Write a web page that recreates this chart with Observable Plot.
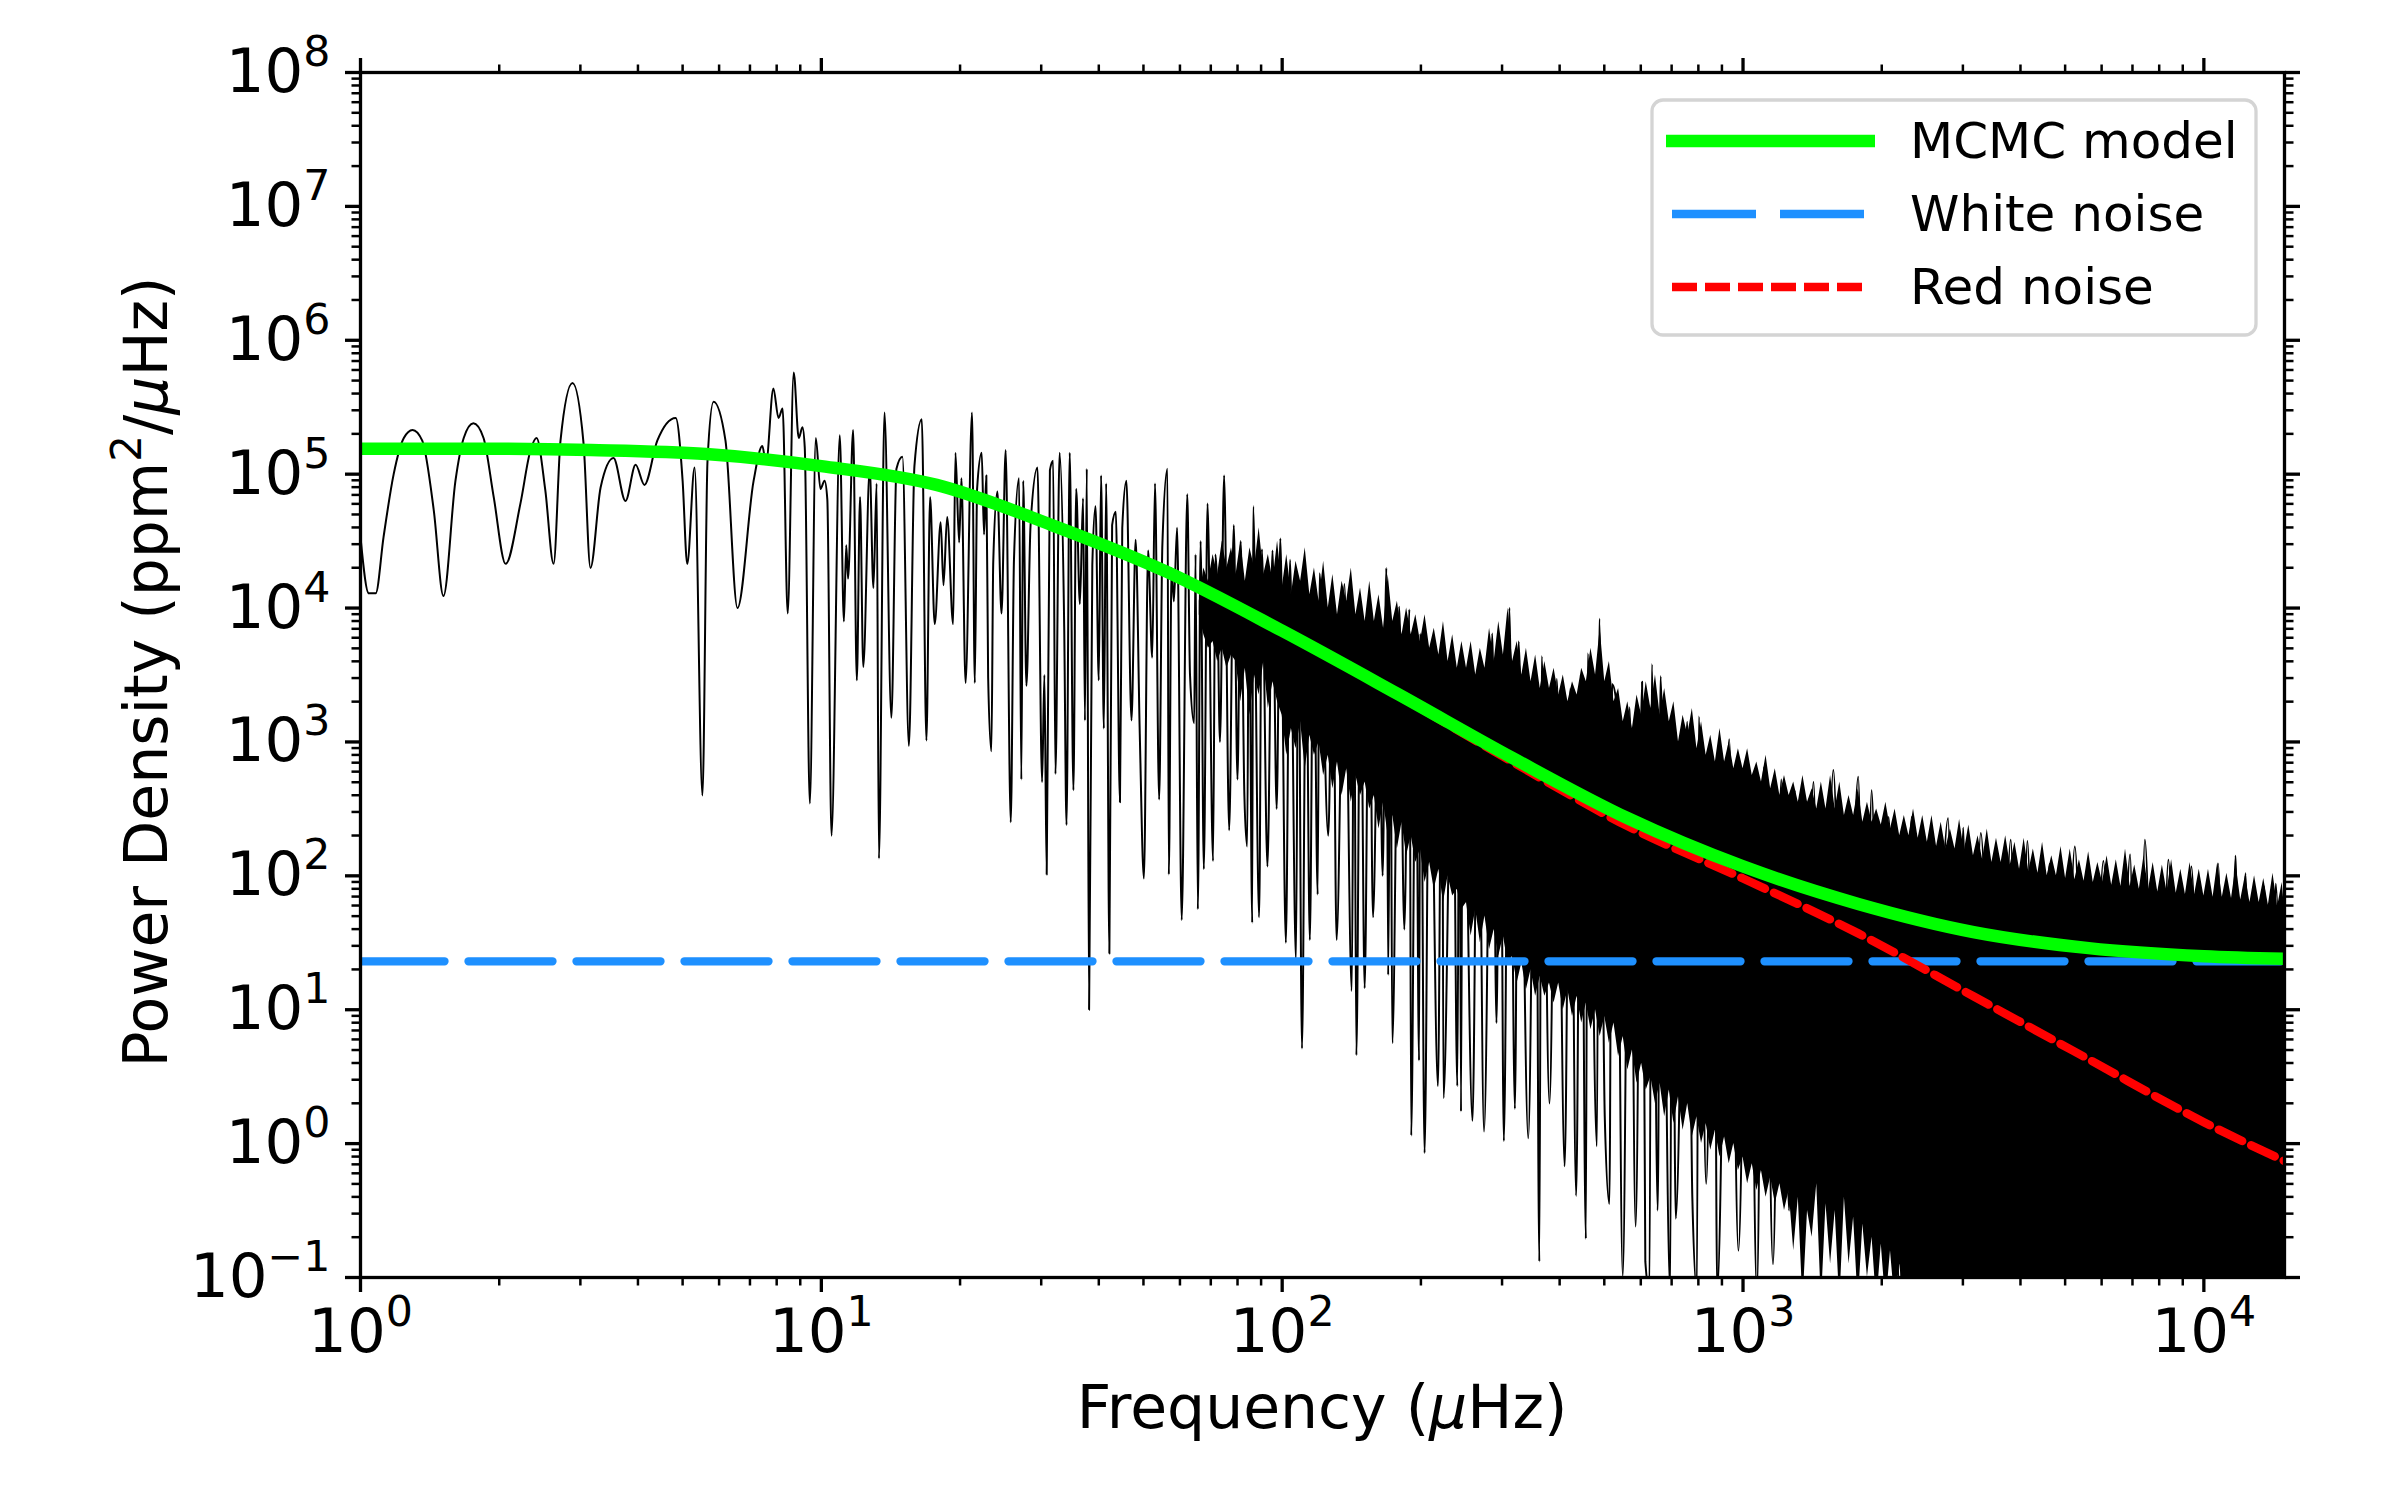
<!DOCTYPE html>
<html><head><meta charset="utf-8">
<script src="https://cdn.jsdelivr.net/npm/d3@7"></script>
<script src="https://cdn.jsdelivr.net/npm/@observablehq/plot@0.6"></script>
<style>
html,body{margin:0;padding:0;background:#fff;}
#chart{position:relative;width:2400px;height:1500px;}
</style></head><body><div id="chart"></div>
<script>
// ---- data (log10 frequency in µHz, log10 power density in ppm^2/µHz) ----
const spectrumLow = [[0,4.53],[0.018,4.11],[0.033,4.11],[0.05,4.53],[0.072,5.0],[0.094,5.27],[0.113,5.33],[0.134,5.25],[0.159,4.73],[0.18,4.09],[0.206,4.95],[0.224,5.27],[0.245,5.38],[0.267,5.27],[0.289,4.83],[0.315,4.33],[0.347,4.78],[0.369,5.18],[0.382,5.27],[0.401,4.88],[0.419,4.33],[0.434,5.25],[0.46,5.68],[0.484,5.23],[0.499,4.30],[0.521,4.9],[0.549,5.12],[0.575,4.80],[0.597,5.07],[0.616,4.92],[0.644,5.25],[0.684,5.42],[0.699,4.95],[0.709,4.33],[0.725,5.05],[0.742,2.60],[0.753,5.1],[0.766,5.54],[0.792,5.25],[0.818,4.0],[0.853,4.95],[0.872,5.21],[0.88,5.08],[0.896,5.64],[0.907,5.42],[0.916,5.49],[0.927,3.96],[0.940,5.76],[0.951,5.27],[0.959,5.35],[0.964,5.2],[0.975,2.54],[0.988,5.27],[0.998,4.89],[1.007,4.95],[1.013,4.81]];
const spectrumMid = [[1.022,2.30],[1.04,5.29],[1.049,3.90],[1.054,4.47],[1.058,4.22],[1.069,5.33],[1.077,3.46],[1.084,4.83],[1.091,3.56],[1.105,5.04],[1.113,4.15],[1.12,4.93],[1.125,2.13],[1.137,5.46],[1.152,3.18],[1.163,5.04],[1.176,5.13],[1.19,2.97],[1.202,5.06],[1.218,5.41],[1.228,3.01],[1.236,4.83],[1.246,3.88],[1.259,4.64],[1.265,4.17],[1.273,4.68],[1.286,3.88],[1.291,5.16],[1.299,4.49],[1.304,4.97],[1.313,3.44],[1.327,5.46],[1.333,3.44],[1.338,4.89],[1.348,5.16],[1.353,4.55],[1.358,4.99],[1.362,3.48],[1.369,2.93],[1.373,4.34],[1.382,4.87],[1.391,3.96],[1.40,5.18],[1.411,2.40],[1.418,4.36],[1.429,4.97],[1.434,2.72],[1.438,4.95],[1.445,3.42],[1.454,4.62],[1.469,5.05],[1.479,2.70],[1.484,3.5],[1.489,2.01],[1.496,5.03],[1.503,5.10],[1.508,2.76],[1.517,5.16],[1.527,3.86],[1.532,2.38],[1.539,5.16],[1.547,2.64],[1.553,4.89],[1.561,4.03],[1.568,4.82],[1.572,3.16],[1.576,5.04],[1.581,1.00],[1.588,4.32],[1.595,4.76],[1.602,3.46],[1.607,4.99],[1.613,3.10],[1.618,4.93],[1.625,1.42],[1.631,4.62],[1.639,4.72],[1.648,2.55],[1.653,4.60],[1.662,4.95],[1.673,3.16],[1.682,4.51],[1.691,3.06],[1.70,1.98],[1.709,4.43],[1.718,3.63],[1.724,4.93],[1.733,2.57],[1.74,4.47],[1.751,5.04],[1.754,2.01],[1.76,4.3],[1.765,4.05],[1.772,4.6],[1.782,1.67],[1.794,4.85],[1.80,3.5],[1.809,3.14],[1.812,4.4],[1.817,1.75],[1.823,4.5],[1.83,2.05],[1.838,4.78],[1.85,2.11],[1.855,4.4],[1.859,4.17],[1.865,3.0],[1.874,4.99],[1.885,2.34],[1.895,4.62],[1.903,2.72],[1.91,4.5],[1.918,2.6],[1.924,2.22],[1.928,4.3],[1.935,1.65],[1.937,4.76],[1.95,1.69],[1.956,4.44],[1.968,2.07],[1.979,4.43],[1.988,2.5],[1.996,4.52],[2.008,1.50],[2.017,4.36],[2.03,1.37]];
const spectrumHigh = [[2.035,4.2],[2.043,0.71],[2.052,3.9],[2.06,1.52],[2.068,4.18],[2.077,1.86],[2.081,4.26],[2.10,2.3],[2.11,4.09],[2.118,1.52],[2.135,4.18],[2.151,1.14],[2.156,3.8],[2.161,0.66],[2.17,3.9],[2.179,1.16],[2.189,4.09],[2.197,1.69],[2.21,3.7],[2.218,2.0],[2.226,4.3],[2.23,1.26],[2.235,3.6],[2.239,0.75],[2.254,4.01],[2.265,1.6],[2.276,3.99],[2.28,0.06],[2.29,3.5],[2.297,0.62],[2.30,3.81],[2.309,-0.07],[2.32,3.6],[2.338,0.43],[2.347,3.79],[2.35,0.34],[2.37,3.5],[2.38,0.43],[2.385,3.6],[2.388,0.24],[2.392,3.58],[2.413,0.17],[2.425,3.5],[2.438,0.09],[2.456,3.81],[2.465,0.9],[2.473,3.6],[2.481,0.02],[2.493,4.0],[2.505,0.26],[2.513,3.75],[2.534,0.04],[2.55,3.55],[2.558,-0.88],[2.563,3.64],[2.58,0.3],[2.596,3.47],[2.613,-0.17],[2.625,3.4],[2.638,-0.39],[2.648,3.5],[2.659,-0.71],[2.663,3.66],[2.683,-0.02],[2.688,3.92],[2.70,0.2],[2.71,-0.45],[2.716,3.43],[2.725,3.3],[2.739,-0.99],[2.754,3.26],[2.767,-0.62],[2.781,3.45],[2.788,-0.88],[2.797,-1.1],[2.802,3.58],[2.815,-0.5],[2.821,3.49],[2.842,-1.1],[2.846,2.94],[2.854,-0.56],[2.879,3.15],[2.89,-0.4],[2.9,-1.1],[2.904,3.19],[2.92,-0.3],[2.937,2.81],[2.944,-1.1],[2.97,3.02],[2.99,-0.8],[3.012,2.72],[3.03,-1.1],[3.045,2.81],[3.065,-0.9],[3.083,2.72],[3.1,-0.5],[3.112,2.64],[3.13,-0.4],[3.153,2.7],[3.17,-0.6],[3.196,2.79],[3.22,-0.3],[3.25,2.74],[3.265,-0.5],[3.279,2.64],[3.3,-0.7],[3.316,2.44],[3.34,-1.1],[3.366,2.44],[3.40,-1.2],[3.445,2.43],[3.46,-1.2],[3.478,2.36],[3.49,-1.2],[3.516,2.32],[3.55,-1.2],[3.581,2.27],[3.6,-1.2],[3.617,2.26],[3.64,-1.2],[3.665,2.09],[3.69,-1.2],[3.72,2.22],[3.75,-1.2],[3.782,2.11],[3.81,-1.2],[3.84,2.16],[3.855,-1.2],[3.872,2.27],[3.9,-1.2],[3.923,2.12],[3.95,-1.2],[3.973,2.07],[4.0,-1.2],[4.031,2.09],[4.05,-1.2],[4.069,2.15],[4.08,-1.2],[4.09,2.02],[4.11,-1.2],[4.131,1.92],[4.145,-1.2],[4.156,1.94],[4.175,-1.2]];

// dense part of the periodogram: lower / upper edge of the solid black mass (read every 0.01 dex)
const bandLogF = [
1.82,1.83,1.84,1.85,1.86,1.87,1.88,1.89,
1.90,1.91,1.92,1.93,1.94,1.95,1.96,1.97,1.98,1.99,
2.00,2.01,2.02,2.03,2.04,2.05,2.06,2.07,2.08,2.09,
2.10,2.11,2.12,2.13,2.14,2.15,2.16,2.17,2.18,2.19,
2.20,2.21,2.22,2.23,2.24,2.25,2.26,2.27,2.28,2.29,
2.30,2.31,2.32,2.33,2.34,2.35,2.36,2.37,2.38,2.39,
2.40,2.41,2.42,2.43,2.44,2.45,2.46,2.47,2.48,2.49,
2.50,2.51,2.52,2.53,2.54,2.55,2.56,2.57,2.58,2.59,
2.60,2.61,2.62,2.63,2.64,2.65,2.66,2.67,2.68,2.69,
2.70,2.71,2.72,2.73,2.74,2.75,2.76,2.77,2.78,2.79,
2.80,2.81,2.82,2.83,2.84,2.85,2.86,2.87,2.88,2.89,
2.90,2.91,2.92,2.93,2.94,2.95,2.96,2.97,2.98,2.99,
3.00,3.01,3.02,3.03,3.04,3.05,3.06,3.07,3.08,3.09,
3.10,3.11,3.12,3.13,3.14,3.15,3.16,3.17,3.18,3.19,
3.20,3.21,3.22,3.23,3.24,3.25,3.26,3.27,3.28,3.29,
3.30,3.31,3.32,3.33,3.34,3.35,3.36,3.37,3.38,3.39,
3.40,3.41,3.42,3.43,3.44,3.45,3.46,3.47,3.48,3.49,
3.50,3.51,3.52,3.53,3.54,3.55,3.56,3.57,3.58,3.59,
3.60,3.61,3.62,3.63,3.64,3.65,3.66,3.67,3.68,3.69,
3.70,3.71,3.72,3.73,3.74,3.75,3.76,3.77,3.78,3.79,
3.80,3.81,3.82,3.83,3.84,3.85,3.86,3.87,3.88,3.89,
3.90,3.91,3.92,3.93,3.94,3.95,3.96,3.97,3.98,3.99,
4.00,4.01,4.02,4.03,4.04,4.05,4.06,4.07,4.08,4.09,
4.10,4.11,4.12,4.13,4.14,4.15,4.16,4.17,4.175];
const bandLogHi = [
4.05,4.3,4.2,4.4,4.25,4.5,4.3,4.45,
4.25,4.5,4.2,4.45,4.3,4.6,4.25,4.4,4.2,4.5,
4.15,4.4,4.1,4.35,4.2,4.45,4.1,4.3,4.05,4.35,
4.0,4.25,3.95,4.2,4.05,4.3,3.95,4.15,3.9,4.2,
3.9,4.1,3.85,4.25,3.9,4.05,3.8,4.0,3.8,3.95,
3.75,3.95,3.7,3.85,3.65,3.9,3.6,3.8,3.55,3.75,
3.55,3.75,3.5,3.7,3.55,3.85,3.6,3.9,3.65,4.0,
3.6,3.75,3.5,3.7,3.45,3.65,3.4,3.6,3.4,3.55,
3.35,3.5,3.3,3.45,3.35,3.55,3.45,3.7,3.5,3.85,
3.45,3.6,3.3,3.4,3.15,3.3,3.1,3.35,3.2,3.45,
3.25,3.5,3.2,3.4,3.15,3.3,3.0,3.2,3.05,3.25,
2.95,3.15,2.9,3.05,2.85,3.1,2.85,3.0,2.8,2.95,
2.8,2.95,2.75,2.85,2.7,2.9,2.65,2.8,2.6,2.75,
2.6,2.7,2.55,2.75,2.55,2.65,2.5,2.7,2.5,2.75,
2.5,2.7,2.45,2.6,2.45,2.65,2.4,2.55,2.4,2.5,
2.38,2.55,2.35,2.5,2.3,2.45,2.3,2.5,2.28,2.45,
2.25,2.45,2.22,2.4,2.2,2.35,2.2,2.42,2.18,2.38,
2.15,2.3,2.12,2.35,2.1,2.28,2.1,2.3,2.08,2.25,
2.05,2.28,2.03,2.2,2.02,2.25,2.0,2.15,2.0,2.22,
1.98,2.2,1.97,2.12,1.96,2.18,1.95,2.1,1.95,2.15,
1.93,2.12,1.92,2.2,1.92,2.08,1.9,2.15,1.9,2.1,
1.88,2.08,1.88,2.12,1.87,2.05,1.86,2.1,1.86,2.05,
1.85,2.05,1.84,2.1,1.84,2.02,1.83,2.08,1.82,2.0,
1.8,2.0,1.8,1.98,1.78,2.02,1.77,1.95,1.75];
const bandLogLo = [
3.95,3.8,3.7,3.75,3.6,3.7,3.55,3.65,
3.6,3.3,3.55,3.2,3.5,3.35,3.6,3.25,3.45,3.3,
3.2,2.9,3.1,2.95,3.15,2.8,3.05,2.9,3.0,2.75,
2.9,2.65,2.85,2.6,2.8,2.55,2.75,2.6,2.7,2.5,
2.6,2.35,2.55,2.3,2.45,2.2,2.4,2.15,2.3,2.1,
2.2,1.95,2.1,1.9,2.05,1.8,2.0,1.85,1.9,1.75,
1.8,1.55,1.75,1.5,1.7,1.45,1.6,1.4,1.55,1.35,
1.4,1.2,1.35,1.15,1.3,1.1,1.25,1.1,1.2,1.05,
1.2,1.0,1.15,0.95,1.1,0.9,1.05,0.85,1.0,0.8,
0.95,0.75,0.9,0.65,0.8,0.55,0.7,0.45,0.6,0.4,
0.5,0.3,0.45,0.2,0.4,0.15,0.35,0.1,0.3,0.05,
0.2,0.0,0.15,-0.05,0.1,-0.1,0.05,-0.15,0.0,-0.2,
-0.1,-0.3,-0.15,-0.35,-0.2,-0.4,-0.25,-0.45,-0.3,-0.5,
-0.35,-0.8,-0.4,-1.2,-0.5,-0.7,-0.3,-1.2,-0.45,-0.9,
-0.5,-1.2,-0.4,-0.9,-0.55,-1.2,-0.6,-1.0,-0.7,-1.2,
-0.75,-1.2,-0.8,-1.2,-0.9,-1.2,-1.0,-1.2,-1.2,-1.2,
-1.2,-1.2,-1.2,-1.2,-1.2,-1.2,-1.2,-1.2,-1.2,-1.2,
-1.2,-1.2,-1.2,-1.2,-1.2,-1.2,-1.2,-1.2,-1.2,-1.2,
-1.2,-1.2,-1.2,-1.2,-1.2,-1.2,-1.2,-1.2,-1.2,-1.2,
-1.2,-1.2,-1.2,-1.2,-1.2,-1.2,-1.2,-1.2,-1.2,-1.2,
-1.2,-1.2,-1.2,-1.2,-1.2,-1.2,-1.2,-1.2,-1.2,-1.2,
-1.2,-1.2,-1.2,-1.2,-1.2,-1.2,-1.2,-1.2,-1.2,-1.2,
-1.2,-1.2,-1.2,-1.2,-1.2,-1.2,-1.2,-1.2,-1.2,-1.2,
-1.2,-1.2,-1.2,-1.2,-1.2,-1.2,-1.2,-1.2,-1.2];

// fitted model curves
const modelLogF     = [0,0.25,0.5,0.75,1,1.25,1.5,1.75,2,2.25,2.5,2.75,3,3.25,3.5,3.75,4,4.175];
const modelLogTotal = [5.19,5.19,5.18,5.15,5.06,4.92,4.62,4.27,3.83,3.36,2.88,2.43,2.07,1.79,1.58,1.46,1.40,1.38];
const modelLogRed   = [5.19,5.19,5.18,5.15,5.06,4.92,4.62,4.27,3.83,3.35,2.85,2.37,1.98,1.57,1.10,0.63,0.16,-0.13];
const whiteLevel = 23;
const freqRange = [1, 14962];

const xMajor = [1, 10, 100, 1000, 10000];
const yMajor = [0.1, 1, 10, 100, 1e3, 1e4, 1e5, 1e6, 1e7, 1e8];
const legendLabels = ["MCMC model", "White noise", "Red noise"];

// ---- build tables ----
const spectrum = [...spectrumLow, ...spectrumMid, ...spectrumHigh].map(([lf, lp]) => ({f: 10 ** lf, p: 10 ** lp}));
const band = bandLogF.map((lf, i) => ({f: 10 ** lf, lo: 10 ** bandLogLo[i], hi: 10 ** bandLogHi[i]}));
const model = modelLogF.map((lf, i) => ({f: 10 ** lf, total: 10 ** modelLogTotal[i], red: 10 ** modelLogRed[i]}));
const white = freqRange.map(f => ({f, p: whiteLevel}));

const xMinor = [], yMinor = [];
for (let k = 0; k <= 4; k++) for (let m = 2; m <= 9; m++) { const v = m * 10 ** k; if (v < freqRange[1]) xMinor.push(v); }
for (let k = -1; k <= 7; k++) for (let m = 2; m <= 9; m++) yMinor.push(m * 10 ** k);

const FS = 61;
const fmtExp = d => "10|" + String(Math.round(Math.log10(d))).replace("-", "\u2212");
const blank = () => "";

const plot = Plot.plot({
  width: 2400, height: 1500,
  marginLeft: 360, marginRight: 116, marginTop: 72, marginBottom: 223,
  style: {fontFamily: "DejaVu Sans", background: "white", color: "black", overflow: "visible"},
  x: {type: "log", domain: freqRange},
  y: {type: "log", domain: [0.1, 1e8]},
  marks: [
    Plot.areaY(band, {x: "f", y1: "lo", y2: "hi", fill: "black", clip: true}),
    Plot.line(spectrum, {x: "f", y: "p", stroke: "black", strokeWidth: 2, curve: "monotone-x", clip: true}),
    Plot.line(white, {x: "f", y: "p", stroke: "#1e90ff", strokeWidth: 8.3, strokeDasharray: "84,24", clip: true}),
    Plot.line(model, {x: "f", y: "red", stroke: "#ff0000", strokeWidth: 8.5, strokeDasharray: "26,10", curve: "monotone-x", clip: true}),
    Plot.line(model, {x: "f", y: "total", stroke: "#00ff00", strokeWidth: 12.5, strokeLinecap: "square", curve: "monotone-x", clip: true}),
    Plot.frame({stroke: "black", strokeWidth: 3.3}),
    Plot.axisX({anchor: "bottom", ticks: xMajor, tickSize: 15, tickPadding: 16, strokeWidth: 3.3, fontSize: FS, tickFormat: fmtExp, label: null}),
    Plot.axisX({anchor: "bottom", ticks: xMinor, tickSize: 8.5, strokeWidth: 2.5, tickFormat: blank, label: null}),
    Plot.axisX({anchor: "top", ticks: xMajor, tickSize: 15, strokeWidth: 3.3, tickFormat: blank, label: null}),
    Plot.axisX({anchor: "top", ticks: xMinor, tickSize: 8.5, strokeWidth: 2.5, tickFormat: blank, label: null}),
    Plot.axisY({anchor: "left", ticks: yMajor, tickSize: 15, tickPadding: 15, strokeWidth: 3.3, fontSize: FS, tickFormat: fmtExp, label: null}),
    Plot.axisY({anchor: "left", ticks: yMinor, tickSize: 8.5, strokeWidth: 2.5, tickFormat: blank, label: null}),
    Plot.axisY({anchor: "right", ticks: yMajor, tickSize: 15, strokeWidth: 3.3, tickFormat: blank, label: null}),
    Plot.axisY({anchor: "right", ticks: yMinor, tickSize: 8.5, strokeWidth: 2.5, tickFormat: blank, label: null})
  ]
});

document.getElementById("chart").appendChild(plot);
const svg = d3.select(plot);

// superscript exponents in tick labels
svg.selectAll("text").each(function () {
  const t = this.textContent;
  if (t.includes("|")) {
    const [b, e] = t.split("|");
    const s = d3.select(this);
    s.text(b);
    s.append("tspan").attr("font-size", FS * 0.7).attr("dy", -26).text(e);
  }
});

// axis titles
const LFS = 60;
const xl = svg.append("text").attr("x", 1322).attr("y", 1428).attr("text-anchor", "middle")
  .attr("font-size", LFS).attr("font-family", "DejaVu Sans").attr("fill", "black");
xl.append("tspan").text("Frequency (");
xl.append("tspan").attr("font-style", "italic").text("\u03bc");
xl.append("tspan").text("Hz)");

const yl = svg.append("text").attr("transform", "translate(167,672) rotate(-90)").attr("text-anchor", "middle")
  .attr("font-size", LFS).attr("font-family", "DejaVu Sans").attr("fill", "black");
yl.append("tspan").text("Power Density (ppm");
yl.append("tspan").attr("font-size", LFS * 0.7).attr("dy", -26).text("2");
yl.append("tspan").attr("dy", 26).text("/");
yl.append("tspan").attr("font-style", "italic").text("\u03bc");
yl.append("tspan").text("Hz)");

// legend
const lg = svg.append("g").attr("font-family", "DejaVu Sans").attr("text-anchor", "start");
lg.append("rect").attr("x", 1652).attr("y", 100).attr("width", 604).attr("height", 235).attr("rx", 11)
  .attr("fill", "white").attr("fill-opacity", 0.8).attr("stroke", "#d4d4d4").attr("stroke-width", 3.3);
const handles = [
  {y: 141, stroke: "#00ff00", w: 12.5, dash: null, x1: 1666, x2: 1875},
  {y: 214, stroke: "#1e90ff", w: 8.3, dash: "84,24", x1: 1672, x2: 1865},
  {y: 287, stroke: "#ff0000", w: 8.5, dash: "25,8", x1: 1672, x2: 1865}
];
handles.forEach((h, i) => {
  const ln = lg.append("line").attr("x1", h.x1).attr("x2", h.x2).attr("y1", h.y).attr("y2", h.y)
    .attr("stroke", h.stroke).attr("stroke-width", h.w);
  if (h.dash) ln.attr("stroke-dasharray", h.dash);
  lg.append("text").attr("x", 1910).attr("y", h.y + 17).attr("font-size", 50).attr("fill", "black")
    .attr("text-anchor", "start").text(legendLabels[i]);
});
</script>
</body></html>
